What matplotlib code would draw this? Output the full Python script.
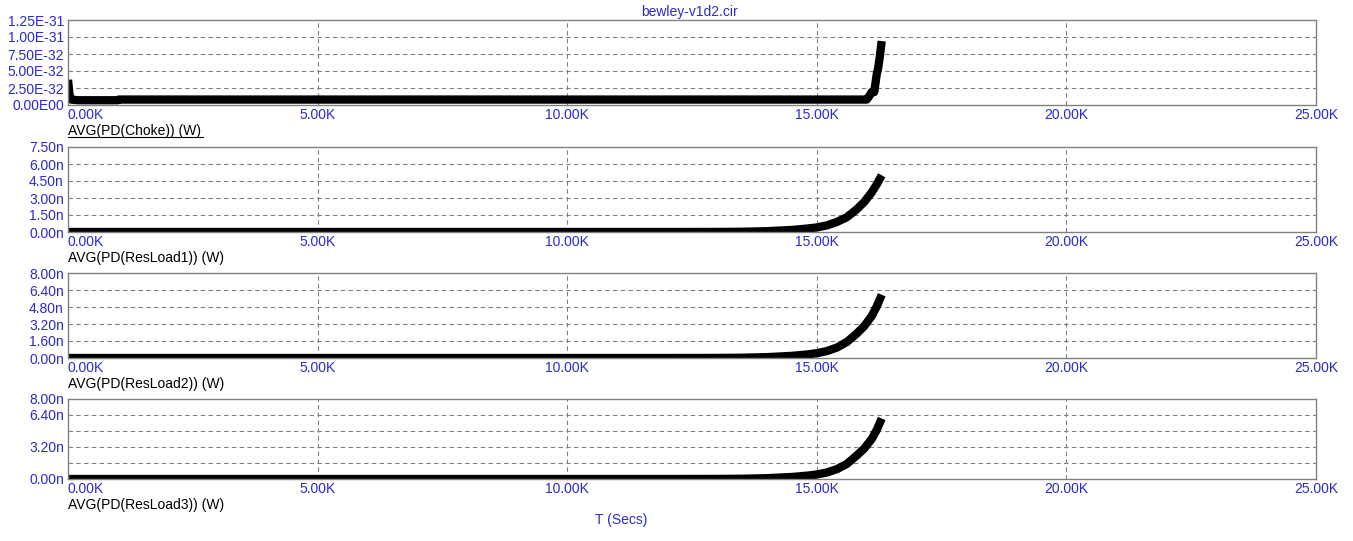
import matplotlib
matplotlib.use('Agg')
import matplotlib.pyplot as plt
from matplotlib.lines import Line2D

plt.rcParams['font.family'] = ['Liberation Sans', 'DejaVu Sans']

# time points (s)
t_choke = [0, 0, 30, 60, 200, 1000, 1010, 16000, 16050, 16100, 16150, 16200, 16230, 16260, 16300]
choke = [3.7e-32, 3.7e-32, 1.5e-32, 0.8e-32, 0.7e-32, 0.7e-32, 0.8e-32, 0.8e-32, 1.3e-32, 1.9e-32,
         1.9e-32, 4.5e-32, 5.5e-32, 7.0e-32, 9.4e-32]

t_res = [0, 12000, 13000, 13500, 14000, 14500, 14800, 15000, 15200, 15400, 15600, 15800,
         15950, 16100, 16200, 16300]
res1 = [0.0, 0.0, 0.005, 0.02, 0.07, 0.18, 0.3, 0.4, 0.58, 0.88, 1.3, 2.0, 2.65, 3.5, 4.2, 5.0]
res2 = [0.0, 0.0, 0.006, 0.025, 0.08, 0.2, 0.33, 0.45, 0.65, 0.98, 1.5, 2.3, 3.0, 3.95, 4.85, 5.95]
res3 = [0.0, 0.0, 0.006, 0.025, 0.08, 0.2, 0.33, 0.45, 0.65, 0.98, 1.5, 2.35, 3.05, 4.0, 4.9, 6.05]

x_ticks = [0, 5000, 10000, 15000, 20000, 25000]
x_labels = ['0.00K', '5.00K', '10.00K', '15.00K', '20.00K', '25.00K']

panels = [
    dict(t=t_choke, y=choke, ymax=1.25e-31,
         grid=[2.5e-32, 5e-32, 7.5e-32, 1e-31],
         ticks=[0, 2.5e-32, 5e-32, 7.5e-32, 1e-31, 1.25e-31],
         labels=['0.00E00', '2.50E-32', '5.00E-32', '7.50E-32', '1.00E-31', '1.25E-31'],
         name='AVG(PD(Choke)) (W)'),
    dict(t=t_res, y=[v * 1e-9 for v in res1], ymax=7.5e-9,
         grid=[1.5e-9, 3e-9, 4.5e-9, 6e-9],
         ticks=[0, 1.5e-9, 3e-9, 4.5e-9, 6e-9, 7.5e-9],
         labels=['0.00n', '1.50n', '3.00n', '4.50n', '6.00n', '7.50n'],
         name='AVG(PD(ResLoad1)) (W)'),
    dict(t=t_res, y=[v * 1e-9 for v in res2], ymax=8e-9,
         grid=[1.6e-9, 3.2e-9, 4.8e-9, 6.4e-9],
         ticks=[0, 1.6e-9, 3.2e-9, 4.8e-9, 6.4e-9, 8e-9],
         labels=['0.00n', '1.60n', '3.20n', '4.80n', '6.40n', '8.00n'],
         name='AVG(PD(ResLoad2)) (W)'),
    dict(t=t_res, y=[v * 1e-9 for v in res3], ymax=8e-9,
         grid=[1.6e-9, 3.2e-9, 4.8e-9, 6.4e-9],
         ticks=[0, 3.2e-9, 6.4e-9, 8e-9],
         labels=['0.00n', '3.20n', '6.40n', '8.00n'],
         name='AVG(PD(ResLoad3)) (W)'),
]

W, H = 1353, 541
fig = plt.figure(figsize=(W / 100, H / 100), dpi=100)

left, right = 68, 1316
boxes = [(20, 105), (147, 232), (273, 358), (399, 479)]
blue = '#2b2bc8'
grid_c = '#808080'

for p, (top, bot) in zip(panels, boxes):
    ax = fig.add_axes([left / W, 1 - bot / H, (right - left) / W, (bot - top) / H])
    ax.plot(p['t'], p['y'], color='black', lw=6, solid_capstyle='butt', solid_joinstyle='round')
    ax.set_xlim(0, 25000)
    ax.set_ylim(0, p['ymax'])
    for g in p['grid']:
        ax.axhline(g, color=grid_c, lw=0.8, ls=(0, (4, 3)), zorder=0)
    for g in x_ticks[1:-1]:
        ax.axvline(g, color=grid_c, lw=0.8, ls=(0, (4, 3)), zorder=0)
    ax.set_xticks(x_ticks)
    ax.set_xticklabels(x_labels)
    ax.set_yticks(p['ticks'])
    ax.set_yticklabels(p['labels'])
    ax.tick_params(length=0, colors=blue, labelsize=10, pad=3)
    ax.tick_params(axis='x', pad=2)
    ax.get_xticklabels()[0].set_horizontalalignment('left')
    for s in ax.spines.values():
        s.set_color(grid_c)
        s.set_linewidth(1)
    fig.text(left / W, 1 - (bot + 26) / H, p['name'], fontsize=10, color='black',
             va='center', ha='left')

# underline of the selected trace name
fig.add_artist(Line2D([68 / W, 203 / W], [1 - 137 / H, 1 - 137 / H], color='black', lw=0.8))

fig.text(690 / W, 1 - 12 / H, 'bewley-v1d2.cir', color=blue, fontsize=10, ha='center', va='center')
fig.text(621 / W, 1 - 520 / H, 'T (Secs)', color=blue, fontsize=10, ha='center', va='center')

plt.savefig('out.png', dpi=100)
plt.close()
